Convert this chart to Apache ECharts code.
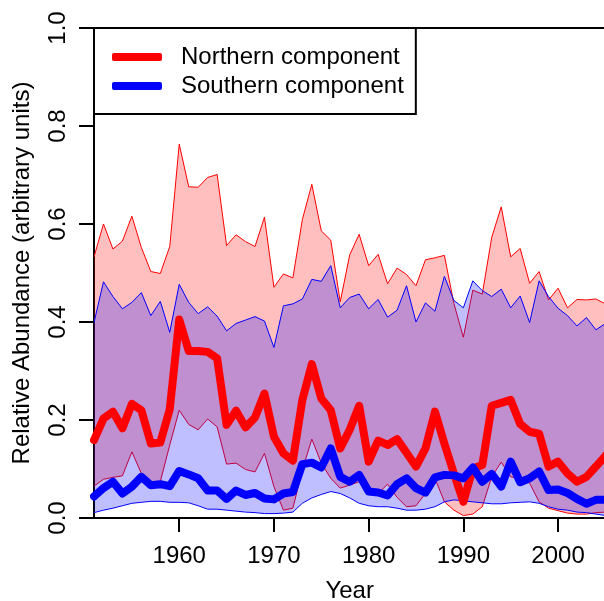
<!DOCTYPE html>
<html>
<head>
<meta charset="utf-8">
<script src="https://cdn.jsdelivr.net/npm/echarts@6/dist/echarts.min.js"></script>
<style>
  html, body { margin: 0; padding: 0; background: #fff; }
  #chart { width: 604px; height: 601px; }
</style>
</head>
<body>
<div id="chart"></div>
<script>
// years of the record
var years = ['1951', '1952', '1953', '1954', '1955', '1956', '1957', '1958', '1959', '1960',
             '1961', '1962', '1963', '1964', '1965', '1966', '1967', '1968', '1969', '1970',
             '1971', '1972', '1973', '1974', '1975', '1976', '1977', '1978', '1979', '1980',
             '1981', '1982', '1983', '1984', '1985', '1986', '1987', '1988', '1989', '1990',
             '1991', '1992', '1993', '1994', '1995', '1996', '1997', '1998', '1999', '2000',
             '2001', '2002', '2003', '2004', '2005'];

// northern component: mean and envelope
var northMean = [0.159, 0.203, 0.217, 0.183, 0.233, 0.220, 0.152, 0.154, 0.222, 0.405,
                 0.341, 0.341, 0.339, 0.326, 0.190, 0.219, 0.185, 0.205, 0.254, 0.166,
                 0.132, 0.117, 0.241, 0.314, 0.244, 0.220, 0.142, 0.180, 0.229, 0.115,
                 0.158, 0.149, 0.161, 0.133, 0.105, 0.142, 0.217, 0.152, 0.091, 0.033,
                 0.101, 0.108, 0.229, 0.235, 0.241, 0.192, 0.176, 0.172, 0.105, 0.115,
                 0.091, 0.074, 0.084, 0.105, 0.127];
var northUpper = [0.533, 0.600, 0.549, 0.565, 0.616, 0.552, 0.503, 0.499, 0.554, 0.763,
                  0.676, 0.675, 0.695, 0.701, 0.556, 0.578, 0.564, 0.554, 0.614, 0.471,
                  0.498, 0.490, 0.609, 0.681, 0.586, 0.567, 0.441, 0.537, 0.579, 0.515,
                  0.538, 0.478, 0.510, 0.497, 0.474, 0.527, 0.531, 0.536, 0.438, 0.369,
                  0.465, 0.457, 0.573, 0.635, 0.533, 0.550, 0.479, 0.503, 0.445, 0.469,
                  0.429, 0.446, 0.445, 0.447, 0.437];
var northLower = [0.065, 0.079, 0.083, 0.086, 0.135, 0.091, 0.074, 0.074, 0.149, 0.220,
                  0.191, 0.180, 0.202, 0.186, 0.110, 0.112, 0.099, 0.094, 0.132, 0.064,
                  0.016, 0.020, 0.098, 0.161, 0.112, 0.081, 0.061, 0.067, 0.074, 0.051,
                  0.050, 0.069, 0.042, 0.023, 0.025, 0.050, 0.081, 0.033, 0.016, 0.005,
                  0.008, 0.023, 0.084, 0.114, 0.084, 0.080, 0.071, 0.033, 0.020, 0.015,
                  0.010, 0.008, 0.008, 0.011, 0.012];

// southern component: mean and envelope
var southMean = [0.044, 0.061, 0.074, 0.050, 0.064, 0.084, 0.067, 0.069, 0.065, 0.096,
                 0.089, 0.081, 0.056, 0.056, 0.039, 0.056, 0.047, 0.051, 0.040, 0.038,
                 0.050, 0.053, 0.110, 0.113, 0.103, 0.142, 0.084, 0.074, 0.088, 0.054,
                 0.052, 0.046, 0.069, 0.081, 0.061, 0.052, 0.083, 0.088, 0.087, 0.081,
                 0.103, 0.074, 0.090, 0.064, 0.115, 0.073, 0.081, 0.095, 0.057, 0.058,
                 0.051, 0.039, 0.029, 0.037, 0.037];
var southUpper = [0.399, 0.482, 0.452, 0.427, 0.440, 0.460, 0.413, 0.442, 0.379, 0.477,
                  0.440, 0.417, 0.431, 0.412, 0.382, 0.397, 0.404, 0.411, 0.402, 0.348,
                  0.433, 0.437, 0.447, 0.487, 0.483, 0.515, 0.429, 0.450, 0.457, 0.427,
                  0.446, 0.410, 0.424, 0.474, 0.400, 0.439, 0.422, 0.493, 0.444, 0.429,
                  0.484, 0.464, 0.452, 0.467, 0.429, 0.453, 0.399, 0.484, 0.452, 0.428,
                  0.413, 0.392, 0.409, 0.384, 0.397];
var southLower = [0.011, 0.016, 0.020, 0.025, 0.030, 0.032, 0.034, 0.034, 0.032, 0.032,
                  0.031, 0.025, 0.018, 0.018, 0.016, 0.014, 0.012, 0.011, 0.009, 0.009,
                  0.010, 0.012, 0.030, 0.041, 0.048, 0.054, 0.050, 0.041, 0.030, 0.025,
                  0.023, 0.023, 0.020, 0.016, 0.016, 0.018, 0.023, 0.033, 0.037, 0.035,
                  0.033, 0.031, 0.029, 0.029, 0.031, 0.032, 0.033, 0.030, 0.023, 0.018,
                  0.016, 0.012, 0.011, 0.008, 0.005];

var xTicks = ['1960', '1970', '1980', '1990', '2000'];
var seriesNames = ['Northern component', 'Southern component'];

// band height above the lower edge (stacked on top of it)
function widths(lo, hi) {
    return hi.map(function (v, i) { return +(v - lo[i]).toFixed(4); });
}
function isTick(idx, val) { return xTicks.indexOf(String(val)) >= 0; }

var FONT = 'Liberation Sans, Arial, Helvetica, sans-serif';
var chart = echarts.init(document.getElementById('chart'));

var option = {
    animation: false,
    backgroundColor: '#fff',
    textStyle: { fontFamily: FONT },
    grid: {
        left: 94, top: 28, width: 511.4, height: 490,
        outerBoundsMode: 'none', containLabel: false,
        show: true, borderColor: '#000', borderWidth: 2, backgroundColor: 'transparent'
    },
    legend: {
        data: seriesNames,
        orient: 'vertical',
        left: 94, top: 28,
        padding: [17, 12, 16, 18],
        itemGap: 5,
        itemWidth: 50, itemHeight: 8,
        icon: 'roundRect',
        backgroundColor: '#fff',
        borderColor: '#000', borderWidth: 2, borderRadius: 0,
        textStyle: { fontSize: 24, color: '#000', fontFamily: FONT, padding: [0, 0, 0, 14] }
    },
    xAxis: {
        type: 'category', data: years, boundaryGap: false,
        name: 'Year', nameLocation: 'middle', nameGap: 61,
        nameTextStyle: { fontSize: 24, color: '#000', fontFamily: FONT },
        axisLine: { show: false },
        splitLine: { show: false },
        axisTick: { show: true, interval: isTick, length: 14, lineStyle: { color: '#000', width: 2 } },
        axisLabel: { interval: isTick, margin: 26, fontSize: 24, color: '#000', fontFamily: FONT }
    },
    yAxis: {
        type: 'value', min: 0, max: 1, interval: 0.2,
        name: 'Relative Abundance (arbitrary units)', nameLocation: 'middle', nameGap: 60,
        nameTextStyle: { fontSize: 24, color: '#000', fontFamily: FONT },
        axisLine: { show: false },
        splitLine: { show: false },
        axisTick: { show: true, length: 15, lineStyle: { color: '#000', width: 2 } },
        axisLabel: {
            rotate: 90, margin: 24, fontSize: 24, color: '#000', fontFamily: FONT,
            formatter: function (v) { return v.toFixed(1); }
        }
    },
    series: [
        // northern envelope
        {
            name: 'nLow', type: 'line', stack: 'n', data: northLower,
            showSymbol: false, lineStyle: { color: '#ff0000', width: 1 }, z: 1
        },
        {
            name: 'nBand', type: 'line', stack: 'n', data: widths(northLower, northUpper),
            showSymbol: false, lineStyle: { color: '#ff0000', width: 1 },
            areaStyle: { color: 'rgba(255,0,0,0.25)', opacity: 1 }, z: 1
        },
        // southern envelope
        {
            name: 'sLow', type: 'line', stack: 's', data: southLower,
            showSymbol: false, lineStyle: { color: '#0000ff', width: 1 }, z: 2
        },
        {
            name: 'sBand', type: 'line', stack: 's', data: widths(southLower, southUpper),
            showSymbol: false, lineStyle: { color: '#0000ff', width: 1 },
            areaStyle: { color: 'rgba(0,0,255,0.25)', opacity: 1 }, z: 2
        },
        // means
        {
            name: seriesNames[0], type: 'line', data: northMean, showSymbol: false,
            color: '#ff0000',
            lineStyle: { color: '#ff0000', width: 8, cap: 'round', join: 'round' }, z: 3
        },
        {
            name: seriesNames[1], type: 'line', data: southMean, showSymbol: false,
            color: '#0000ff',
            lineStyle: { color: '#0000ff', width: 8, cap: 'round', join: 'round' }, z: 4
        }
    ]
};

chart.setOption(option);
</script>
</body>
</html>
